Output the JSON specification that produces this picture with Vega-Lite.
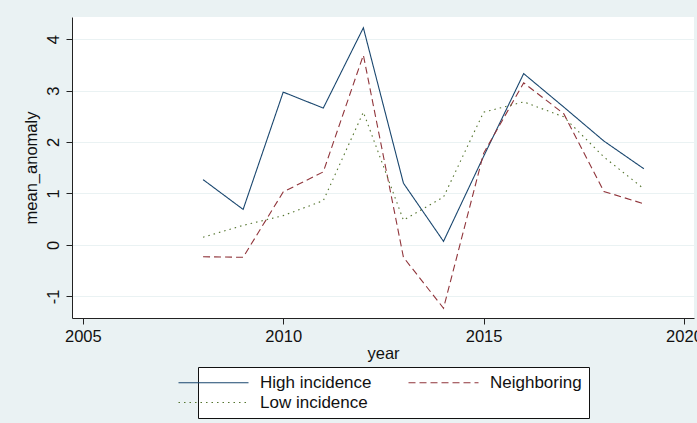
{
  "$schema": "https://vega.github.io/schema/vega-lite/v6.json",
  "width": 622,
  "height": 301,
  "autosize": {"type": "none"},
  "padding": {"left": 72, "top": 17, "right": 3, "bottom": 105},
  "background": "#eaf2f3",
  "config": {
    "font": "Liberation Sans",
    "view": {"fill": "white", "stroke": null},
    "axis": {"labelFont": "Liberation Sans", "titleFont": "Liberation Sans"}
  },
  "data": {
    "values": [
      {"year": 2008, "series": "High incidence", "mean_anomaly": 1.27},
      {"year": 2009, "series": "High incidence", "mean_anomaly": 0.69},
      {"year": 2010, "series": "High incidence", "mean_anomaly": 2.97},
      {"year": 2011, "series": "High incidence", "mean_anomaly": 2.66},
      {"year": 2012, "series": "High incidence", "mean_anomaly": 4.22},
      {"year": 2013, "series": "High incidence", "mean_anomaly": 1.2},
      {"year": 2014, "series": "High incidence", "mean_anomaly": 0.07},
      {"year": 2015, "series": "High incidence", "mean_anomaly": 1.72},
      {"year": 2016, "series": "High incidence", "mean_anomaly": 3.33},
      {"year": 2017, "series": "High incidence", "mean_anomaly": 2.68},
      {"year": 2018, "series": "High incidence", "mean_anomaly": 2.02},
      {"year": 2019, "series": "High incidence", "mean_anomaly": 1.48},
      {"year": 2008, "series": "Neighboring", "mean_anomaly": -0.23},
      {"year": 2009, "series": "Neighboring", "mean_anomaly": -0.24},
      {"year": 2010, "series": "Neighboring", "mean_anomaly": 1.03},
      {"year": 2011, "series": "Neighboring", "mean_anomaly": 1.42},
      {"year": 2012, "series": "Neighboring", "mean_anomaly": 3.69},
      {"year": 2013, "series": "Neighboring", "mean_anomaly": -0.24},
      {"year": 2014, "series": "Neighboring", "mean_anomaly": -1.23},
      {"year": 2015, "series": "Neighboring", "mean_anomaly": 1.78},
      {"year": 2016, "series": "Neighboring", "mean_anomaly": 3.15},
      {"year": 2017, "series": "Neighboring", "mean_anomaly": 2.55},
      {"year": 2018, "series": "Neighboring", "mean_anomaly": 1.04},
      {"year": 2019, "series": "Neighboring", "mean_anomaly": 0.8},
      {"year": 2008, "series": "Low incidence", "mean_anomaly": 0.15},
      {"year": 2009, "series": "Low incidence", "mean_anomaly": 0.38},
      {"year": 2010, "series": "Low incidence", "mean_anomaly": 0.57},
      {"year": 2011, "series": "Low incidence", "mean_anomaly": 0.86},
      {"year": 2012, "series": "Low incidence", "mean_anomaly": 2.58},
      {"year": 2013, "series": "Low incidence", "mean_anomaly": 0.48},
      {"year": 2014, "series": "Low incidence", "mean_anomaly": 0.93},
      {"year": 2015, "series": "Low incidence", "mean_anomaly": 2.58},
      {"year": 2016, "series": "Low incidence", "mean_anomaly": 2.78},
      {"year": 2017, "series": "Low incidence", "mean_anomaly": 2.49},
      {"year": 2018, "series": "Low incidence", "mean_anomaly": 1.71},
      {"year": 2019, "series": "Low incidence", "mean_anomaly": 1.09}
    ]
  },
  "mark": {"type": "line", "strokeWidth": 1.1},
  "encoding": {
    "x": {
      "field": "year", "type": "quantitative",
      "scale": {"domain": [2004.73, 2020.25], "nice": false, "zero": false},
      "axis": {
        "values": [2005, 2010, 2015, 2020], "format": "d", "grid": false,
        "domainColor": "#222", "tickColor": "#222", "tickSize": 6,
        "labelFontSize": 16.5, "labelColor": "#111", "labelPadding": 4,
        "title": "year", "titleFontSize": 16.5, "titleFontWeight": "normal", "titleColor": "#111", "titlePadding": 1
      }
    },
    "y": {
      "field": "mean_anomaly", "type": "quantitative",
      "scale": {"domain": [-1.42, 4.43], "nice": false, "zero": false},
      "axis": {
        "values": [-1, 0, 1, 2, 3, 4], "grid": true, "gridColor": "#eaf2f3", "gridWidth": 1.2,
        "domainColor": "#222", "tickColor": "#222", "tickSize": 6,
        "labelExpr": "datum.value < 0 ? '-' + abs(datum.value) : '' + datum.value",
        "labelFontSize": 16.5, "labelColor": "#111", "labelAngle": -90, "labelAlign": "center", "labelBaseline": "alphabetic", "labelPadding": 8,
        "title": "mean_anomaly", "titleFontSize": 16.5, "titleFontWeight": "normal", "titleColor": "#111", "titlePadding": 6
      }
    },
    "color": {
      "field": "series", "type": "nominal",
      "scale": {"domain": ["High incidence", "Neighboring", "Low incidence"], "range": ["#1a476f", "#90353b", "#55752f"]},
      "legend": {
        "title": null, "orient": "none", "legendX": 126, "legendY": 350,
        "columns": 2, "direction": "horizontal",
        "fillColor": "white", "strokeColor": "#111", "padding": 7,
        "symbolType": "M-5,0H5", "symbolSize": 196, "symbolStrokeWidth": 1.1,
        "labelOffset": 38, "labelFontSize": 17, "labelColor": "#111", "labelFont": "Liberation Sans",
        "columnPadding": 34, "rowPadding": 2
      }
    },
    "strokeDash": {
      "field": "series", "type": "nominal",
      "scale": {"domain": ["High incidence", "Neighboring", "Low incidence"], "range": [[1, 0], [7, 4], [1.5, 4]]},
      "legend": null
    }
  }
}
